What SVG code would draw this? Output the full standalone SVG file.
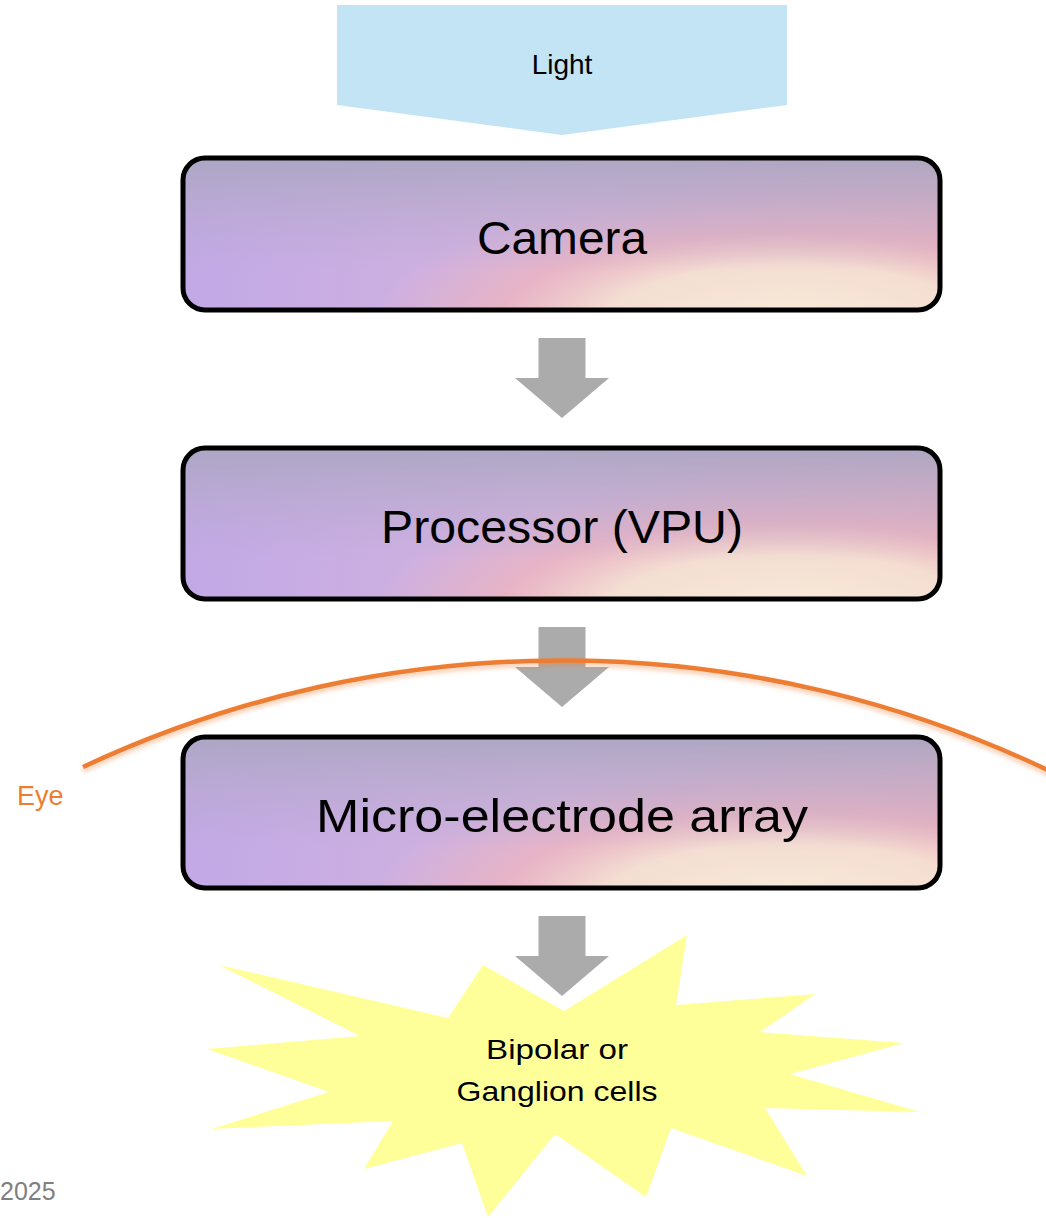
<svg xmlns="http://www.w3.org/2000/svg" width="1046" height="1218" viewBox="0 0 1046 1218">
<defs>
<linearGradient id="gBase" x1="0" y1="0" x2="1" y2="0">
<stop offset="0" stop-color="#c2a9e6"/>
<stop offset="0.5" stop-color="#d4b4de"/>
<stop offset="1" stop-color="#e6b0bf"/>
</linearGradient>
<radialGradient id="gCream" cx="0.8" cy="1.1" r="0.55" gradientTransform="translate(0.8 1.1) scale(1 1.6) translate(-0.8 -1.1)">
<stop offset="0" stop-color="#f8ecda" stop-opacity="1"/>
<stop offset="0.45" stop-color="#f5e0d2" stop-opacity="0.95"/>
<stop offset="0.7" stop-color="#eeb4be" stop-opacity="0.75"/>
<stop offset="1" stop-color="#ecb4c0" stop-opacity="0"/>
</radialGradient>
<linearGradient id="gTop" x1="0" y1="0" x2="0" y2="1">
<stop offset="0" stop-color="#aba6c2" stop-opacity="0.95"/>
<stop offset="0.35" stop-color="#b2a8c8" stop-opacity="0.5"/>
<stop offset="0.75" stop-color="#b8a8d0" stop-opacity="0"/>
</linearGradient>
<filter id="shadow" x="-5%" y="-20%" width="110%" height="160%">
<feDropShadow dx="0" dy="3" stdDeviation="2.5" flood-color="#ed7d31" flood-opacity="0.45"/>
</filter>
<g id="arrowShape">
<polygon points="-23.5,0 23.5,0 23.5,40 47,40 0,80 -47,40 -23.5,40"/>
</g>
</defs>
<style>
.box{stroke:#000;stroke-width:5}
.big{font-family:"Liberation Sans",Arial,sans-serif;font-size:46px;fill:#000;text-anchor:middle}
.med{font-family:"Liberation Sans",Arial,sans-serif;font-size:28px;fill:#000;text-anchor:middle}
.arrow{fill:#ababab}
</style>
<rect width="1046" height="1218" fill="#fff"/>

<g id="light">
<polygon points="337,5 787,5 787,105 562,135 337,105" fill="#c2e4f4"/>
<text x="562" y="74" class="med" font-size="29">Light</text>
</g>

<g id="connectors">
<use href="#arrowShape" class="arrow" transform="translate(562,338)"/>
<use href="#arrowShape" class="arrow" transform="translate(562,627)"/>
<use href="#arrowShape" class="arrow" transform="translate(562,916)"/>
</g>

<g id="camera">
<rect x="183" y="158" width="757" height="152" rx="22" fill="url(#gBase)"/>
<rect x="183" y="158" width="757" height="152" rx="22" fill="url(#gCream)"/>
<rect x="183" y="158" width="757" height="152" rx="22" fill="url(#gTop)" class="box"/>
<text x="562" y="254" class="big" textLength="170" lengthAdjust="spacingAndGlyphs">Camera</text>
</g>

<g id="processor">
<rect x="183" y="448" width="757" height="151" rx="22" fill="url(#gBase)"/>
<rect x="183" y="448" width="757" height="151" rx="22" fill="url(#gCream)"/>
<rect x="183" y="448" width="757" height="151" rx="22" fill="url(#gTop)" class="box"/>
<text x="562" y="543" class="big" textLength="362" lengthAdjust="spacingAndGlyphs">Processor (VPU)</text>
</g>

<g id="eye">
<path d="M 83 767 A 1130 1130 0 0 1 1060 776" fill="none" stroke="#ed7d31" stroke-width="4.5" filter="url(#shadow)"/>
<text x="17" y="805" font-family="'Liberation Sans',Arial,sans-serif" font-size="27" fill="#ed7d31">Eye</text>
</g>

<g id="mea">
<rect x="183" y="737" width="757" height="151" rx="22" fill="url(#gBase)"/>
<rect x="183" y="737" width="757" height="151" rx="22" fill="url(#gCream)"/>
<rect x="183" y="737" width="757" height="151" rx="22" fill="url(#gTop)" class="box"/>
<text x="562" y="832" class="big" textLength="492" lengthAdjust="spacingAndGlyphs">Micro-electrode array</text>
</g>

<g id="cells">
<polygon points="219,965 448,1018 483,965 564,1011 687,935 676,1005 815,994 760,1032 904,1043 790,1074 920,1112 765,1108 807,1176 671,1128 646,1197 555,1134 488,1217 462,1143 364,1169 393,1121 211,1129 329,1092 207,1049 360,1036" fill="#ffff99"/>
<text x="557" y="1059" class="med" textLength="142" lengthAdjust="spacingAndGlyphs">Bipolar or</text>
<text x="557" y="1101" class="med" textLength="201" lengthAdjust="spacingAndGlyphs">Ganglion cells</text>
</g>

<text x="0" y="1200" font-family="'Liberation Sans',Arial,sans-serif" font-size="25" fill="#7f7f7f">2025</text>
</svg>
